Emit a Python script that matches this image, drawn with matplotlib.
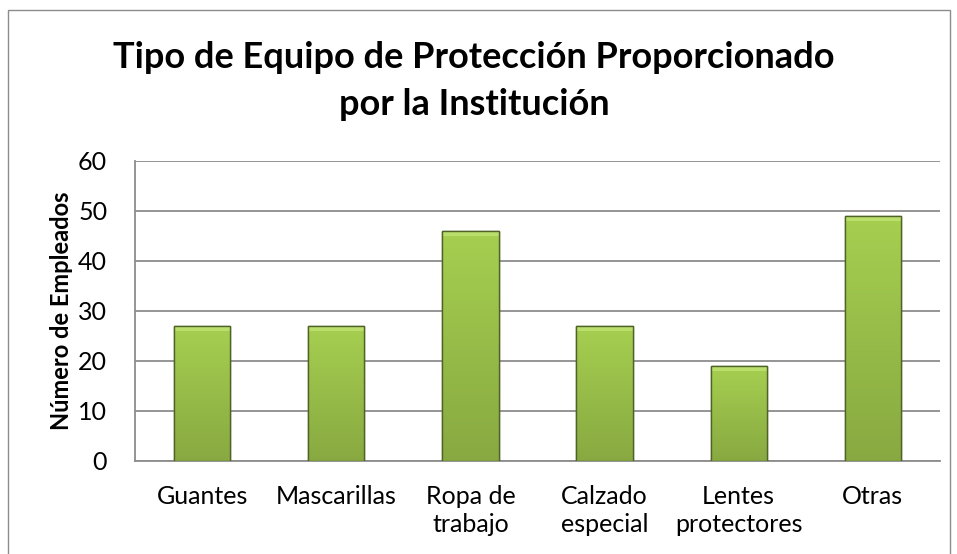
import numpy as np
import matplotlib
matplotlib.use("Agg")
import matplotlib.pyplot as plt
from matplotlib.patches import Rectangle

categorias = ["Guantes", "Mascarillas", "Ropa de\ntrabajo", "Calzado\nespecial",
              "Lentes\nprotectores", "Otras"]
empleados = [27, 27, 46, 27, 19, 49]
yticks = [0, 10, 20, 30, 40, 50, 60]

plt.rcParams['font.family'] = ['Lato', 'DejaVu Sans']

fig = plt.figure(figsize=(9.57, 5.54), dpi=100)
ax = fig.add_axes([135/957, 1 - 461/554, (940-135)/957, (461-161)/554])

x = np.arange(len(categorias))
bars = ax.bar(x, empleados, width=0.42, color='#93bb45', edgecolor='#4f6228',
              linewidth=1.0, zorder=3)

# vertical gradient inside each bar, lighter at top
grad = np.linspace(1, 0, 256).reshape(-1, 1)
cmap = matplotlib.colors.LinearSegmentedColormap.from_list('g', ['#88a941', '#a6cf50'])
for b in bars:
    x0, w, h = b.get_x(), b.get_width(), b.get_height()
    im = ax.imshow(grad, extent=(x0, x0 + w, 0, h), aspect='auto', cmap=cmap,
                   zorder=3.5, interpolation='bicubic')
    im.set_clip_path(b)
    # top bevel
    ax.add_patch(Rectangle((x0, h - 0.9), w, 0.9, facecolor='#bade6c', edgecolor='none',
                           zorder=3.6))
    ax.add_patch(Rectangle((x0, 0), w, h, facecolor='none', edgecolor='#4f6228',
                           linewidth=1.0, zorder=3.7))

ax.set_xlim(-0.5, len(categorias) - 0.5)
ax.set_ylim(0, 60)
ax.set_yticks(yticks)
ax.set_xticks(x)
ax.set_xticklabels(categorias, fontsize=18, linespacing=1.3)
ax.tick_params(axis='both', length=0, labelsize=18)
ax.tick_params(axis='y', pad=20)
ax.tick_params(axis='x', pad=17)
ax.grid(axis='y', color='#8c8c8c', linewidth=1.3, zorder=0)
for s in ['top', 'right']:
    ax.spines[s].set_visible(False)
for s in ['left', 'bottom']:
    ax.spines[s].set_color('#8c8c8c')
    ax.spines[s].set_linewidth(1.3)

ax.set_ylabel("Número de Empleados", fontsize=17, fontweight='bold', labelpad=4)

fig.text(474/957, 1 - 81/554, "Tipo de Equipo de Protección Proporcionado\npor la Institución",
         ha='center', va='center', fontsize=26, fontweight='bold', linespacing=1.55)

# chart border
fig.add_artist(Rectangle((8/957, -0.01), (950-8)/957, 1 - 10/554 + 0.01,
                         transform=fig.transFigure, facecolor='none',
                         edgecolor='#8c8c8c', linewidth=1.0))

fig.savefig("out.png", dpi=100)
